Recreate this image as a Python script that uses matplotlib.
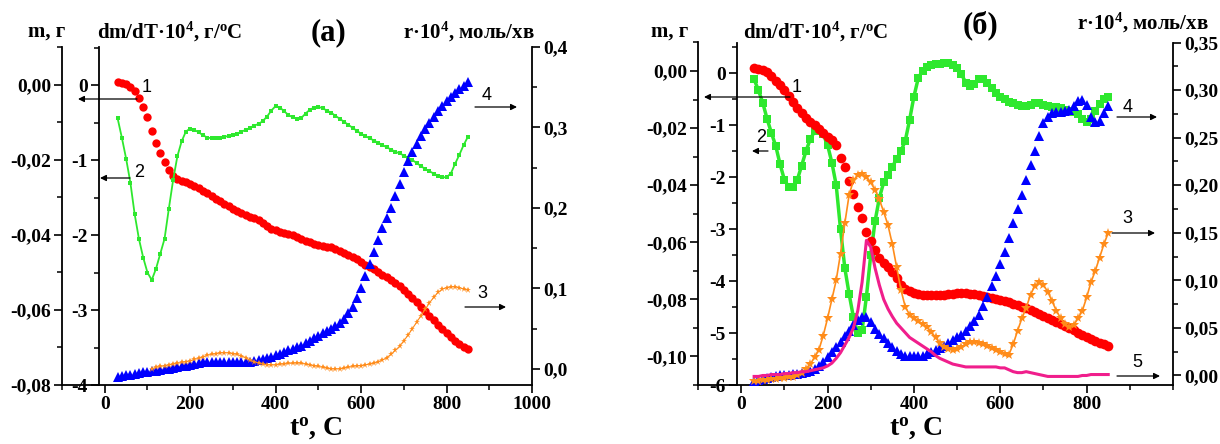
import numpy as np
import matplotlib.pyplot as plt
from matplotlib.ticker import MultipleLocator

W, H = 1220, 444

plt.rcParams['font.family'] = ['Liberation Serif', 'DejaVu Serif']
plt.rcParams['font.weight'] = 'bold'
plt.rcParams['mathtext.default'] = 'regular'
plt.rcParams['axes.linewidth'] = 1.3

# temperature grid, deg C
temp = np.arange(30, 851, 10)

# --- (а) ---
a_mass = [0.0008, 0.0006, 0.0003, -0.0005, -0.0015, -0.0036, -0.0058, -0.0085, -0.0122, -0.0155,
          -0.0182, -0.0205, -0.0228, -0.0243, -0.0252, -0.0256, -0.0259, -0.0264, -0.0270, -0.0276,
          -0.0283, -0.0289, -0.0296, -0.0303, -0.0310, -0.0317, -0.0324, -0.0330, -0.0336, -0.0341,
          -0.0346, -0.0351, -0.0356, -0.0361, -0.0368, -0.0376, -0.0383, -0.0388, -0.0391, -0.0394,
          -0.0397, -0.0401, -0.0405, -0.0410, -0.0415, -0.0419, -0.0423, -0.0426, -0.0429, -0.0431,
          -0.0433, -0.0437, -0.0442, -0.0447, -0.0453, -0.0459, -0.0465, -0.0472, -0.0479, -0.0485,
          -0.0492, -0.0499, -0.0506, -0.0513, -0.0520, -0.0527, -0.0536, -0.0547, -0.0558, -0.0569,
          -0.0580, -0.0592, -0.0603, -0.0615, -0.0627, -0.0639, -0.0650, -0.0661, -0.0672, -0.0682,
          -0.0692, -0.0699, -0.0703]
a_dtg = [-0.44, -0.70, -0.98, -1.30, -1.72, -2.05, -2.30, -2.50, -2.60, -2.45,
         -2.25, -2.05, -1.65, -1.27, -0.95, -0.75, -0.62, -0.58, -0.60, -0.63,
         -0.67, -0.70, -0.71, -0.71, -0.70, -0.69, -0.68, -0.67, -0.65, -0.62,
         -0.60, -0.57, -0.54, -0.52, -0.48, -0.42, -0.34, -0.28, -0.30, -0.35,
         -0.40, -0.43, -0.45, -0.44, -0.38, -0.33, -0.30, -0.29, -0.31, -0.34,
         -0.37, -0.41, -0.45, -0.49, -0.53, -0.57, -0.61, -0.65, -0.68, -0.71,
         -0.74, -0.77, -0.80, -0.83, -0.86, -0.89, -0.91, -0.94, -0.97, -1.00,
         -1.04, -1.08, -1.12, -1.15, -1.18, -1.21, -1.23, -1.23, -1.18, -1.05,
         -0.93, -0.80, -0.69]
a_rate4 = [-0.010, -0.009, -0.008, -0.007, -0.006, -0.005, -0.004, -0.004, -0.003, -0.002,
           -0.001, 0.000, 0.000, 0.001, 0.002, 0.003, 0.004, 0.005, 0.006, 0.007,
           0.008, 0.008, 0.009, 0.009, 0.009, 0.009, 0.008, 0.008, 0.008, 0.008,
           0.008, 0.009, 0.010, 0.011, 0.012, 0.014, 0.015, 0.017, 0.019, 0.021,
           0.023, 0.025, 0.027, 0.029, 0.032, 0.035, 0.038, 0.041, 0.044, 0.047,
           0.050, 0.053, 0.057, 0.062, 0.069, 0.077, 0.088, 0.100, 0.115, 0.130,
           0.145, 0.160, 0.175, 0.188, 0.200, 0.215, 0.230, 0.245, 0.258, 0.270,
           0.280, 0.290, 0.298, 0.305, 0.313, 0.320, 0.327, 0.333, 0.338, 0.343,
           0.348, 0.352, 0.356]
# curve 3 starts at 110 C
a_rate3 = [0.000, 0.002, 0.003, 0.004, 0.005, 0.006, 0.007, 0.008, 0.009, 0.010,
           0.012, 0.013, 0.015, 0.017, 0.018, 0.019, 0.020, 0.020, 0.020, 0.019,
           0.018, 0.016, 0.014, 0.011, 0.009, 0.007, 0.006, 0.005, 0.005, 0.005,
           0.006, 0.006, 0.007, 0.007, 0.0075, 0.007, 0.006, 0.005, 0.004, 0.003,
           0.002, 0.001, 0.000, 0.000, 0.000, 0.001, 0.002, 0.003, 0.004, 0.004,
           0.005, 0.006, 0.007, 0.009, 0.011, 0.014, 0.018, 0.023, 0.028, 0.035,
           0.042, 0.050, 0.058, 0.066, 0.074, 0.082, 0.089, 0.095, 0.099, 0.101,
           0.102, 0.102, 0.101, 0.099, 0.098]

# --- (б) ---
b_mass = [0.0010, 0.0008, 0.0003, -0.0005, -0.0018, -0.0034, -0.0050, -0.0065, -0.0087, -0.0110,
          -0.0130, -0.0148, -0.0163, -0.0178, -0.0190, -0.0203, -0.0216, -0.0230, -0.0243, -0.0260,
          -0.0305, -0.0335, -0.0385, -0.0430, -0.0478, -0.0515, -0.0563, -0.0595, -0.0628, -0.0655,
          -0.0672, -0.0688, -0.0705, -0.0725, -0.0748, -0.0762, -0.0770, -0.0777, -0.0781, -0.0784,
          -0.0785, -0.0786, -0.0786, -0.0785, -0.0784, -0.0782, -0.0780, -0.0779, -0.0778, -0.0779,
          -0.0780, -0.0782, -0.0785, -0.0788, -0.0791, -0.0794, -0.0797, -0.0801, -0.0805, -0.0810,
          -0.0815, -0.0820, -0.0825, -0.0831, -0.0838, -0.0844, -0.0850, -0.0857, -0.0864, -0.0871,
          -0.0879, -0.0886, -0.0893, -0.0901, -0.0909, -0.0917, -0.0924, -0.0931, -0.0938, -0.0945,
          -0.0952, -0.0958, -0.0962]
b_dtg = [-0.12, -0.33, -0.57, -0.88, -1.15, -1.40, -1.75, -2.05, -2.19, -2.19,
         -2.05, -1.78, -1.50, -1.27, -1.12, -1.10, -1.18, -1.38, -1.72, -2.15,
         -3.00, -3.75, -4.25, -4.70, -5.00, -4.95, -4.30, -3.50, -2.85, -2.40,
         -2.10, -1.95, -1.80, -1.65, -1.50, -1.30, -0.90, -0.45, -0.10, 0.05,
         0.12, 0.15, 0.17, 0.18, 0.19, 0.19, 0.16, 0.10, -0.02, -0.18,
         -0.25, -0.20, -0.12, -0.12, -0.18, -0.28, -0.38, -0.45, -0.50, -0.55,
         -0.58, -0.61, -0.63, -0.64, -0.62, -0.58, -0.58, -0.61, -0.64, -0.65,
         -0.66, -0.67, -0.70, -0.72, -0.74, -0.78, -0.88, -0.94, -0.88, -0.72,
         -0.60, -0.50, -0.46]
b_rate4 = [-0.006, -0.005, -0.004, -0.003, -0.002, -0.001, 0.000, 0.001, 0.001, 0.002,
           0.002, 0.003, 0.004, 0.005, 0.007, 0.010, 0.014, 0.019, 0.025, 0.030,
           0.035, 0.041, 0.047, 0.053, 0.058, 0.061, 0.062, 0.056, 0.049, 0.044,
           0.039, 0.034, 0.030, 0.026, 0.023, 0.021, 0.020, 0.020, 0.020, 0.021,
           0.023, 0.025, 0.027, 0.029, 0.031, 0.034, 0.037, 0.040, 0.043, 0.047,
           0.052, 0.057, 0.064, 0.073, 0.083, 0.094, 0.105, 0.117, 0.130, 0.144,
           0.160, 0.175, 0.190, 0.205, 0.221, 0.236, 0.252, 0.265, 0.272, 0.276,
           0.277, 0.277, 0.278, 0.279, 0.283, 0.289, 0.290, 0.284, 0.272, 0.266,
           0.268, 0.276, 0.283]
b_rate3 = [-0.006, -0.006, -0.005, -0.005, -0.004, -0.004, -0.003, -0.003, -0.002, -0.002,
           0.000, 0.003, 0.007, 0.012, 0.019, 0.027, 0.042, 0.060, 0.080, 0.100,
           0.128, 0.160, 0.190, 0.205, 0.211, 0.212, 0.209, 0.203, 0.195, 0.185,
           0.172, 0.158, 0.138, 0.114, 0.090, 0.072, 0.064, 0.060, 0.057, 0.054,
           0.051, 0.046, 0.040, 0.034, 0.030, 0.028, 0.027, 0.028, 0.030, 0.033,
           0.035, 0.035, 0.034, 0.033, 0.031, 0.029, 0.027, 0.025, 0.023, 0.022,
           0.033, 0.047, 0.060, 0.071, 0.085, 0.094, 0.098, 0.095, 0.088, 0.078,
           0.068, 0.060, 0.054, 0.051, 0.053, 0.060, 0.068, 0.082, 0.098, 0.110,
           0.124, 0.138, 0.150]
b_rate5 = [-0.001, -0.001, 0.000, 0.000, 0.001, 0.001, 0.001, 0.002, 0.002, 0.003,
           0.003, 0.004, 0.004, 0.005, 0.006, 0.007, 0.008, 0.010, 0.013, 0.018,
           0.024, 0.032, 0.040, 0.050, 0.068, 0.098, 0.142, 0.135, 0.113, 0.095,
           0.080, 0.070, 0.062, 0.055, 0.050, 0.045, 0.040, 0.037, 0.034, 0.031,
           0.028, 0.025, 0.021, 0.018, 0.016, 0.014, 0.012, 0.011, 0.010, 0.009,
           0.009, 0.009, 0.009, 0.009, 0.009, 0.009, 0.009, 0.008, 0.008, 0.006,
           0.004, 0.003, 0.003, 0.004, 0.003, 0.002, 0.001, 0.000, -0.001, -0.001,
           -0.001, -0.001, -0.001, -0.001, -0.001, -0.001, 0.000, 0.000, 0.001, 0.001,
           0.001, 0.001, 0.001]

# ticks
a_m_ticks = [0.0, -0.02, -0.04, -0.06, -0.08]
a_d_ticks = [0, -1, -2, -3, -4]
a_r_ticks = [0.0, 0.1, 0.2, 0.3, 0.4]
a_x_ticks = [0, 200, 400, 600, 800, 1000]
b_m_ticks = [0.0, -0.02, -0.04, -0.06, -0.08, -0.10]
b_d_ticks = [0, -1, -2, -3, -4, -5, -6]
b_r_ticks = [0.0, 0.05, 0.10, 0.15, 0.20, 0.25, 0.30, 0.35]
b_x_ticks = [0, 200, 400, 600, 800]

RED, GREEN, BLUE, ORANGE, PINK = '#ff0000', '#2ee82e', '#0000ff', '#ff8c1a', '#f01e8c'


def comma(vals, nd):
    return [f'{v:.{nd}f}'.replace('.', ',') for v in vals]


def px(x, y):
    # pixel position (from top-left) -> figure fraction
    return x / W, 1 - y / H


def panel(box, d_pos, m_lim, d_lim, r_lim):
    left, top, right, bottom = box
    ax = fig.add_axes([left / W, 1 - bottom / H, (right - left) / W, (bottom - top) / H])
    ax_d = ax.twinx()
    ax_r = ax.twinx()
    ax.set_xlim(-100, 1000)
    ax.set_ylim(m_lim)
    ax_d.set_ylim(d_lim)
    ax_r.set_ylim(r_lim)
    ax.spines[['top', 'right']].set_visible(False)
    ax_d.spines[['top', 'right', 'bottom']].set_visible(False)
    ax_d.spines['left'].set_position(('axes', d_pos))
    ax_d.yaxis.tick_left()
    ax_r.spines[['top', 'left', 'bottom']].set_visible(False)
    for a in (ax, ax_d, ax_r):
        a.tick_params(which='major', direction='out', length=6, width=1.2, labelsize=14, pad=2)
        a.tick_params(which='minor', direction='out', length=3.5, width=1.1)
    ax.xaxis.set_minor_locator(MultipleLocator(100))
    ax_d.yaxis.set_minor_locator(MultipleLocator(0.5))
    ax.yaxis.set_minor_locator(MultipleLocator(0.01))
    return ax, ax_d, ax_r


fig = plt.figure(figsize=(W / 100, H / 100), dpi=100)

# (а)
ax, ax_d, ax_r = panel((62, 47, 532, 385), 0.079, (-0.08, 0.0101), (-4, 0.507), (-0.02, 0.4))
ax.set_xticks(a_x_ticks, [str(v) for v in a_x_ticks])
ax.set_yticks(a_m_ticks, comma(a_m_ticks, 2))
ax_d.set_yticks(a_d_ticks, [str(v) for v in a_d_ticks])
ax_r.set_yticks(a_r_ticks, comma(a_r_ticks, 1))
ax_r.yaxis.set_minor_locator(MultipleLocator(0.05))
ax.plot(temp, a_mass, 'o', color=RED, ms=6, mew=0)
ax_d.plot(temp, a_dtg, '-s', color=GREEN, ms=2.8, lw=1.3, mew=0)
ax_r.plot(temp, a_rate4, '^', color=BLUE, ms=6.8, mew=0)
ax_r.plot(temp[8:], a_rate3, '-*', color=ORANGE, ms=4.8, lw=0.8, mew=0)

# (б)
bx, bx_d, bx_r = panel((698, 42.5, 1173, 385), 0.082, (-0.11, 0.01), (-6, 0.59), (-0.01, 0.35))
bx_d.set_zorder(1)
bx.set_zorder(2)
bx_r.set_zorder(3)
bx.patch.set_visible(False)
bx.set_xticks(b_x_ticks, [str(v) for v in b_x_ticks])
bx.set_yticks(b_m_ticks, comma(b_m_ticks, 2))
bx_d.set_yticks(b_d_ticks, [str(v) for v in b_d_ticks])
bx_r.set_yticks(b_r_ticks, comma(b_r_ticks, 2))
bx_r.yaxis.set_minor_locator(MultipleLocator(0.025))
bx.plot(temp, b_mass, 'o', color=RED, ms=7, mew=0)
bx_d.plot(temp, b_dtg, '-s', color=GREEN, ms=5.8, lw=2.5, mew=0)
bx_r.plot(temp, b_rate4, '^', color=BLUE, ms=6.8, mew=0)
bx_r.plot(temp, b_rate3, '-*', color=ORANGE, ms=7, lw=1.2, mew=0)
bx_r.plot(temp, b_rate5, '-', color=PINK, lw=2.2)

# axis titles
for x0, xd, xr, yr, xl, yl, lab in [(47, 97, 403, 32, 329, 33, '(а)'),
                                      (670, 743, 1077, 23, 981, 25, '(б)')]:
    fig.text(*px(x0, 32), 'm, г', fontsize=15, ha='center', va='center')
    fig.text(*px(xd, 32), 'dm/dT·10$^4$, г/$^o$C', fontsize=15, ha='left', va='center')
    fig.text(*px(xr, yr), 'r·10$^4$, моль/хв', fontsize=15, ha='left', va='center')
    fig.text(*px(xl, yl), lab, fontsize=22, ha='center', va='center')
fig.text(*px(316, 428), 't$^o$, C', fontsize=20, ha='center', va='center')
fig.text(*px(916, 428), 't$^o$, C', fontsize=20, ha='center', va='center')

# curve numbers with arrows
marks = [('1', (147, 87), (137, 99), (78, 99)),
         ('2', (139, 172), (130, 178), (100, 178)),
         ('4', (487, 95), (475, 107), (517, 107)),
         ('3', (482, 293), (465, 307), (506, 307)),
         ('1', (797, 88), (790, 97), (704, 97)),
         ('2', (761, 137), (768, 151), (752, 151)),
         ('4', (1128, 107), (1117, 117), (1157, 117)),
         ('3', (1127, 218), (1112, 233), (1155, 233)),
         ('5', (1137, 362), (1117, 376), (1160, 376))]
for num, pos, start, end in marks:
    fig.text(*px(*pos), num, fontsize=13, family='Liberation Sans', weight='normal',
             ha='center', va='center')
    fig.add_artist(plt.Annotation('', xy=px(*end), xytext=px(*start),
                                  xycoords='figure fraction', textcoords='figure fraction',
                                  arrowprops=dict(arrowstyle='-|>', lw=0.9, color='k',
                                                  mutation_scale=9, shrinkA=0, shrinkB=0)))

fig.savefig('out.png', dpi=100)
